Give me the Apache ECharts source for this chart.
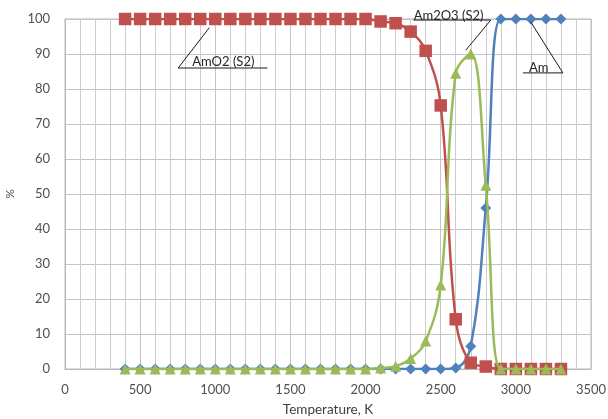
<!DOCTYPE html>
<html><head><meta charset="utf-8">
<script src="https://cdn.jsdelivr.net/npm/echarts@6/dist/echarts.min.js"></script>
<style>html,body{margin:0;padding:0;background:#fff}#c{width:608px;height:419px}</style>
</head><body><div id="c"></div>
<script>
const temps = [400,500,600,700,800,900,1000,1100,1200,1300,1400,1500,1600,1700,1800,1900,2000,2100,2200,2300,2400,2500,2600,2700,2800,2900,3000,3100,3200,3300];
const am    = [0,0,0,0,0,0,0,0,0,0,0,0,0,0,0,0,0,0,0,0,0,0,0.3,6.5,46,100,100,100,100,100];
const amo2  = [100,100,100,100,100,100,100,100,100,100,100,100,100,100,100,100,100,99.3,98.8,96.4,90.9,75.3,14.2,1.8,0.7,0,0,0,0,0];
const am2o3 = [0,0,0,0,0,0,0,0,0,0,0,0,0,0,0,0,0,0.3,0.8,3,8,24,84.5,90,52.5,0,0,0,0,0];
const xTicks = [0,500,1000,1500,2000,2500,3000,3500];
const yTicks = [0,10,20,30,40,50,60,70,80,90,100];

const font = 'Lato, "Open Sans", sans-serif';
const txt = '#505050';
const pair = (ys) => temps.map((t,i)=>[t, ys[i]]);

const chart = echarts.init(document.getElementById('c'));
chart.setOption({
  animation:false,
  backgroundColor:'#fff',
  grid:{left:65,right:17,top:19,bottom:50,show:true,borderColor:'#b8b8b8',borderWidth:1,containLabel:false,outerBoundsMode:'none'},
  xAxis:{type:'value',min:xTicks[0],max:xTicks[xTicks.length-1],interval:500,
    name:'Temperature, K',nameLocation:'middle',nameGap:34,
    nameTextStyle:{color:'#404040',fontFamily:font,fontSize:13.5},
    axisLine:{lineStyle:{color:'#b8b8b8'}},axisTick:{show:false},
    axisLabel:{color:txt,fontFamily:font,fontSize:13,margin:14,formatter:(v)=>String(v)},
    splitLine:{show:true,lineStyle:{color:'#c4c4c4',width:1}},
    minorSplitLine:{show:true,lineStyle:{color:'#cccccc',width:1}},
    minorTick:{show:false,splitNumber:5}},
  yAxis:{type:'value',min:yTicks[0],max:yTicks[yTicks.length-1],interval:10,
    name:'%',nameLocation:'middle',nameGap:48,nameRotate:90,
    nameTextStyle:{color:txt,fontFamily:font,fontSize:12},
    axisLine:{show:true,lineStyle:{color:'#b8b8b8'}},axisTick:{show:false},
    axisLabel:{color:txt,fontFamily:font,fontSize:13,margin:15,formatter:(v)=>String(v)},
    splitLine:{show:true,lineStyle:{color:'#c4c4c4',width:1}}},
  series:[
    {name:'Am',type:'line',data:pair(am),smooth:0.4,symbol:'diamond',symbolSize:11,
      lineStyle:{color:'#4F81BD',width:2.5},itemStyle:{color:'#4F81BD'},z:2},
    {name:'AmO2 (S2)',type:'line',data:pair(amo2),smooth:0.4,symbol:'rect',symbolSize:12.5,
      lineStyle:{color:'#C0504D',width:2.5},itemStyle:{color:'#C0504D'},z:3},
    {name:'Am2O3 (S2)',type:'line',data:pair(am2o3),smooth:0.4,symbol:'triangle',symbolSize:11,
      lineStyle:{color:'#9BBB59',width:2.5},itemStyle:{color:'#9BBB59'},z:4}
  ]
});

// annotations (data coords): label, text start (left, vertical middle), underline start, underline end, leader origin side, leader target
const notes = [
  {label:'AmO2 (S2)', text:[847, 87.7], us:[753, 86.0], ue:[1347, 86.0], from:'start', to:[960, 97.5]},
  {label:'Am2O3 (S2)', text:[2320, 100.9], us:[2320, 99.7], ue:[2833, 99.7], from:'end', to:[2667, 91.1]},
  {label:'Am', text:[3087, 86.0], us:[3047, 84.6], ue:[3313, 84.6], from:'end', to:[3100, 99.1]}
];
const px = (p) => chart.convertToPixel({gridIndex:0}, p);
const g = [];
notes.forEach((n) => {
  const a = px(n.us), b = px(n.ue), t = px(n.text), l = px(n.to);
  const o = n.from === 'start' ? a : b;
  g.push({type:'polyline',shape:{points:[[a[0],a[1]],[b[0],b[1]]]},style:{stroke:'#1a1a1a',lineWidth:1,fill:null},z:100});
  g.push({type:'polyline',shape:{points:[[o[0],o[1]],[l[0],l[1]]]},style:{stroke:'#1a1a1a',lineWidth:1,fill:null},z:100});
  g.push({type:'text',x:t[0],y:t[1],style:{text:n.label,fill:'#262626',font:'13px '+font,textAlign:'left',textVerticalAlign:'middle'},z:100});
});
chart.setOption({graphic:g});
</script>
</body></html>
